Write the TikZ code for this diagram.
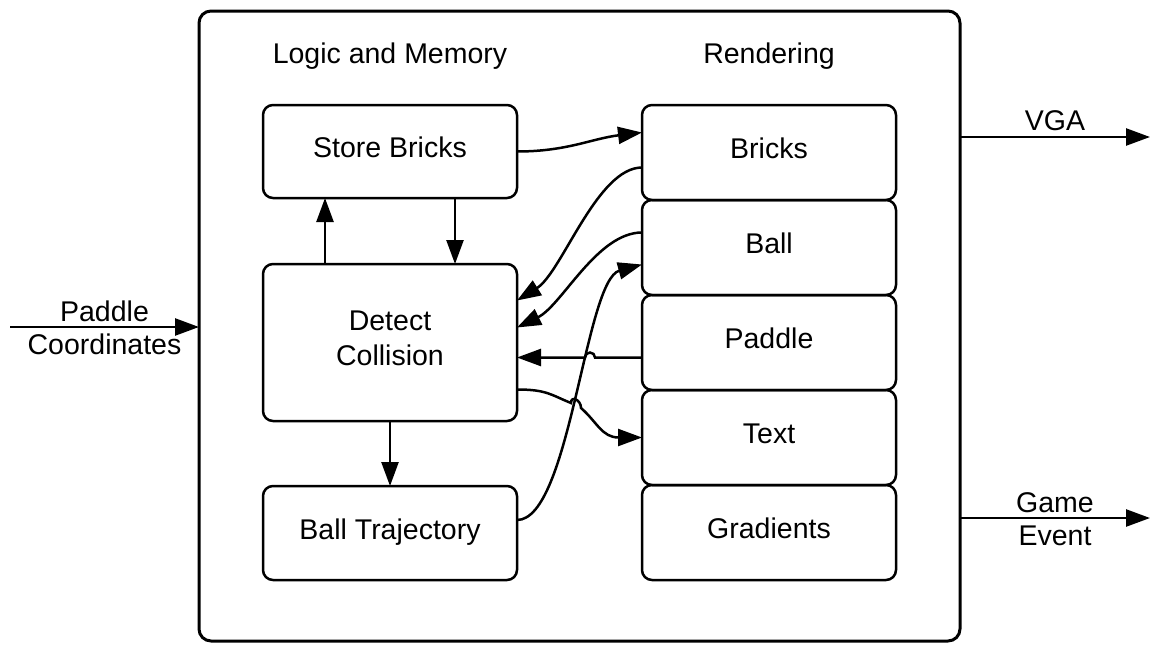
\documentclass[tikz,border=0pt]{standalone}
\usepackage{fontspec}
\setmainfont{Liberation Sans}
\usepackage{tikz}
\usetikzlibrary{positioning,arrows.meta,calc}
\tikzset {
    block/.style={
        draw=black,
        line width=2.5pt,
        rectangle, % Set the shape as a rectangle
        rounded corners=10pt,
        minimum width=254pt,
        minimum height=94pt,
        text depth=8pt,
        outer sep=0pt,
        align=center,
    },
    render/.style={
        block,
        minimum height=95pt,
    },
    frame/.style={
        draw=black,
        line width=3pt,
        rectangle, % Set the shape as a rectangle
        rounded corners=12pt,
        minimum width=761pt,
        minimum height=630pt,
        outer sep=0pt,
    },
    title/.style={
        draw=none,
        align=center,
    },
    link/.style={
        draw=black,
        line width=2.5pt,
        ->,
    },
}

\begin{document}
\begin{tikzpicture}
[x=1pt, y=1pt, font=\fontsize{28.5}{35}\selectfont,
>={Triangle[length=24pt,width=17pt]}]

\useasboundingbox (0,0) rectangle (1150,-645);

\node [frame] (game) at (579.5,-326) {};

\node [title] (logic) at (390,-56) {Logic and Memory};
\node [title] (rendering) at (769,-56) {Rendering};

% logic and memory
\node [block, minimum height=93pt] (storebricks) at (390,-151.5) {Store Bricks};
\node [block, minimum height=157pt] (detect) at (390,-342.5) {Detect\\Collision};
\node [block] (trajectory) at (390,-533) {Ball Trajectory};

% rendering
\node [render] (bricks) at (769,-152.5) {Bricks};
\node [render, below=0pt of bricks] (ball) {Ball};
\node [render, below=0pt of ball] (paddle) {Paddle};
\node [render, below=0pt of paddle] (text) {Text};
\node [render, below=0pt of text] (gradients) {Gradients};

% inputs and outputs
\coordinate (padin) at (10,-327);
\coordinate (vga) at (1150,-137);
\coordinate (event) at (1150,-518);

\draw [link] (padin) -- (padin -| game.west)
node [midway, above, inner sep=4pt] (padlabel) {Paddle}
node [midway, below, inner sep=6pt] (coordlabel) {Coordinates};
\draw [link] (game.east |- vga) -- (vga)
node [midway, above, inner sep=5pt] (vgalabel) {VGA};
\draw [link] (game.east |- event) -- (event)
node [midway, above, inner sep=4pt] (gamelabel) {Game}
node [midway, below, inner sep=7pt] (eventlabel) {Event};

% inside the logic block
\draw [link] ([xshift=-65]detect.north) -- ([xshift=-65]storebricks.south);
\draw [link] ([xshift=65]storebricks.south) -- ([xshift=65]detect.north);
\draw [link] (detect.south) -- (trajectory.north);

% between the two columns
\draw [link] (storebricks.east) .. controls +(50,0) and +(-50,-6) .. ([yshift=20]bricks.west);
\draw [link] ([yshift=-15]bricks.west) .. controls +(-45,0) and +(45,28) .. ([yshift=42]detect.east);
\draw [link] ([yshift=15]ball.west) .. controls +(-45,0) and +(45,22) .. ([yshift=15]detect.east);
\draw [link] ([yshift=13]trajectory.east) .. controls +(53,0) and +(-57,-15.5) .. ([yshift=-17]ball.west);
\draw [link] ([yshift=-15]paddle.west) -- (595,-357.5) arc (0:180:5) -- ([yshift=-15]detect.east);
\draw [link] ([yshift=-47]detect.east) .. controls +(30,0) and +(-20,8) .. (571,-403)
.. controls +(0,8) and +(0,8) .. (581,-408)
.. controls +(16,-14) and +(-40,0) .. (text.west);

\end{tikzpicture}
\end{document}
